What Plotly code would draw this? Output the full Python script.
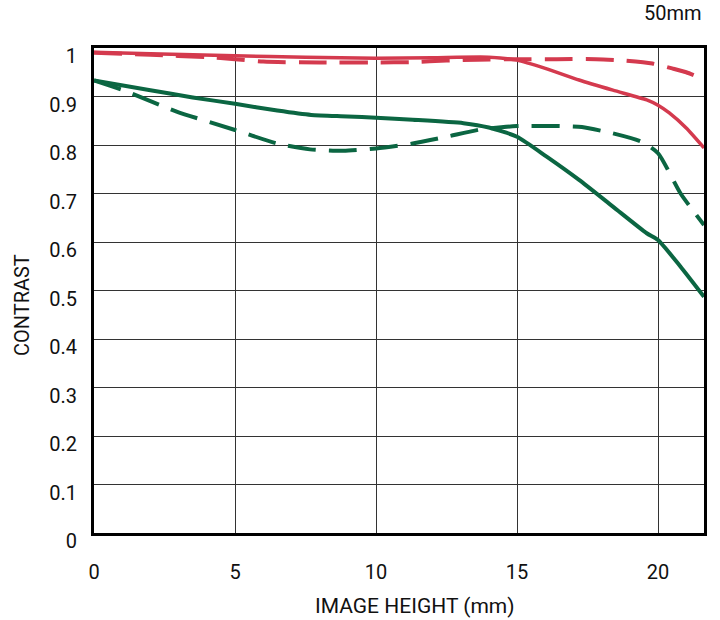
import plotly.graph_objects as go

# Image height (mm)
x_red_solid = [0, 2, 5, 7.5, 10, 12, 14, 15, 16, 17.2, 18.4, 19.6, 20, 20.4, 21.0, 21.63]
y_red_solid = [0.991, 0.988, 0.984, 0.981, 0.979, 0.980, 0.981, 0.975, 0.958, 0.934, 0.913, 0.893, 0.882, 0.866, 0.835, 0.794]

x_red_dash = [0, 2, 4, 5, 6, 8, 10, 11.3, 12.5, 13.6, 15, 16.4, 17.8, 18.8, 19.8, 20.5, 21.0, 21.63]
y_red_dash = [0.990, 0.986, 0.981, 0.977, 0.972, 0.970, 0.970, 0.971, 0.974, 0.976, 0.977, 0.977, 0.977, 0.974, 0.968, 0.958, 0.950, 0.935]

x_green_solid = [0, 2, 3.5, 5, 6.5, 7.7, 9, 10, 11.3, 13.1, 14.0, 15, 16.05, 17.2, 18.4, 19.6, 20, 20.8, 21.63]
y_green_solid = [0.933, 0.913, 0.898, 0.885, 0.871, 0.862, 0.859, 0.856, 0.852, 0.845, 0.836, 0.817, 0.776, 0.728, 0.673, 0.618, 0.604, 0.549, 0.487]

x_green_dash = [0, 1.17, 2.93, 5, 6.5, 7.66, 8.84, 10, 11.3, 12.5, 13.7, 15, 16.5, 17.3, 18.4, 19.4, 20, 20.8, 21.63]
y_green_dash = [0.933, 0.910, 0.869, 0.831, 0.803, 0.791, 0.788, 0.793, 0.803, 0.817, 0.832, 0.839, 0.839, 0.837, 0.824, 0.807, 0.783, 0.700, 0.635]

x_ticks = [0, 5, 10, 15, 20]
y_ticks = [0, 0.1, 0.2, 0.3, 0.4, 0.5, 0.6, 0.7, 0.8, 0.9, 1]
y_tick_labels = ["0", "0.1", "0.2", "0.3", "0.4", "0.5", "0.6", "0.7", "0.8", "0.9", "1"]

RED = "#D43A4E"
GREEN = "#0B6642"
FONT = "Roboto"
FS = 20

fig = go.Figure()
fig.add_trace(go.Scatter(x=x_red_solid, y=y_red_solid, mode="lines",
                         line=dict(color=RED, width=3.5, shape="spline", smoothing=0.6)))
fig.add_trace(go.Scatter(x=x_red_dash, y=y_red_dash, mode="lines",
                         line=dict(color=RED, width=4, dash="28px,13px", shape="spline", smoothing=0.6)))
fig.add_trace(go.Scatter(x=x_green_solid, y=y_green_solid, mode="lines",
                         line=dict(color=GREEN, width=4, shape="spline", smoothing=0.6)))
fig.add_trace(go.Scatter(x=x_green_dash, y=y_green_dash, mode="lines",
                         line=dict(color=GREEN, width=4, dash="28px,13px", shape="spline", smoothing=0.6)))

fig.update_layout(
    width=720, height=620,
    margin=dict(l=94, r=16, t=48, b=87),
    paper_bgcolor="white", plot_bgcolor="white",
    showlegend=False,
    font=dict(family=FONT, size=FS, color="#111111"),
    xaxis=dict(range=[0, 21.63], tickvals=x_ticks, showgrid=True, gridcolor="#333333",
               gridwidth=1, zeroline=False, showline=True, mirror=True, linecolor="black",
               linewidth=3, ticks="", ticklabelstandoff=19, tickfont=dict(size=FS)),
    yaxis=dict(range=[0, 1], tickvals=y_ticks, ticktext=y_tick_labels, showgrid=True,
               gridcolor="#333333", gridwidth=1, zeroline=False, showline=True, mirror=True,
               linecolor="black", linewidth=3, ticks="", ticklabelstandoff=10,
               ticklabelshift=8, tickfont=dict(size=FS)),
    annotations=[
        dict(text="50mm", xref="paper", yref="paper", x=1.0, y=1.0, xanchor="right",
             yanchor="middle", yshift=35, showarrow=False, font=dict(size=FS)),
        dict(text="CONTRAST", xref="paper", yref="paper", x=-0.118, y=0.47, xanchor="center",
             yanchor="middle", textangle=-90, showarrow=False, font=dict(size=FS)),
        dict(text="IMAGE HEIGHT (mm)", xref="paper", yref="paper", x=0.526, y=-0.15,
             xanchor="center", yanchor="middle", showarrow=False, font=dict(size=FS + 1)),
    ],
)

fig.write_html("out.html")
